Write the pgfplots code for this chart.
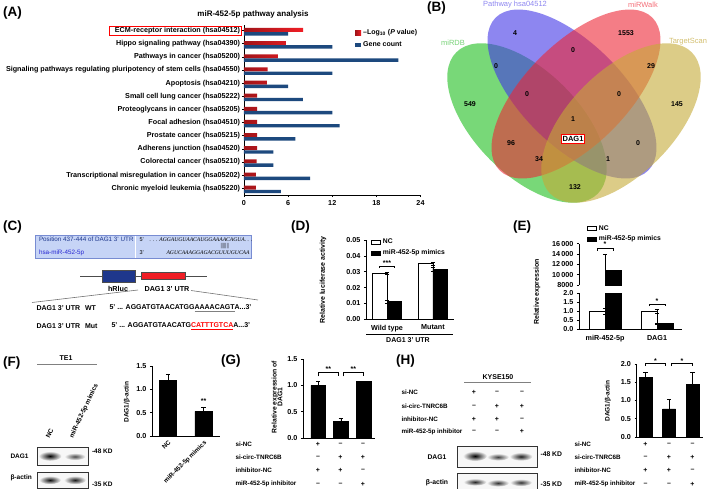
\documentclass[border=0pt]{standalone}
\usepackage{fontspec}
\setmainfont{Liberation Sans}
\newfontfamily\seriffont{Liberation Serif}
\usepackage{pgfplots}
\pgfplotsset{compat=1.18}
\definecolor{abar}{RGB}{29,73,126}
\definecolor{rbar}{RGB}{240,30,37}
\definecolor{rbard}{RGB}{160,20,25}
\definecolor{vgreen}{RGB}{30,190,30}
\definecolor{vblue}{RGB}{65,53,230}
\definecolor{vred}{RGB}{237,38,53}
\definecolor{vyellow}{RGB}{197,170,55}
\definecolor{lgreen}{RGB}{120,210,120}
\definecolor{lblue}{RGB}{141,134,240}
\definecolor{lred}{RGB}{244,110,120}
\definecolor{lyellow}{RGB}{210,190,110}
\definecolor{cbox}{RGB}{198,212,246}
\definecolor{cboxd}{RGB}{120,140,210}
\definecolor{hblue}{RGB}{30,55,140}
\definecolor{mirblue}{RGB}{40,40,210}
\newcommand{\fs}[1]{\fontsize{#1}{#1}\selectfont}
\pgfplotsset{
  prism/.style={scale only axis, axis x line*=bottom, axis y line*=left,
    tick align=outside, major tick length=2.2pt,
    every tick/.style={black, line width=0.6pt},
    axis line style={black, line width=0.7pt},
    tick label style={font=\bfseries\fs{7.2}},
    /pgf/number format/assume math mode=true,
    scaled y ticks=false, scaled x ticks=false,
    enlargelimits=false, clip=false,
    yticklabel style={/pgf/number format/fixed, /pgf/number format/fixed zerofill, /pgf/number format/precision=1},
  },
  eb/.style={error bars/y dir=both, error bars/y explicit,
    error bars/error bar style={line width=0.6pt, black},
    error bars/error mark options={rotate=90, mark size=2.2pt, line width=0.6pt, black}},
}
\tikzset{bt/.style={font=\bfseries\fs{#1}}, rt/.style={font=\fs{#1}}}
\newcommand{\signtab}[8]{%
  \foreach \yy/\lab/\sa/\sb/\sc in {#5/si-NC/+/--/--, #6/si-circ-TNRC6B/--/+/+, #7/inhibitor-NC/+/+/--, #8/miR-452-5p inhibitor/--/--/+}{%
    \node[anchor=west, bt=6.3] at (#1,-\yy) {\lab};
    \node[bt=7] at (#2,-\yy) {\sa};
    \node[bt=7] at (#3,-\yy) {\sb};
    \node[bt=7] at (#4,-\yy) {\sc};
  }%
}
\begin{document}
\begin{tikzpicture}[x=1pt,y=1pt]
\path[use as bounding box] (0,0) rectangle (709,-489);

% ---------------- Panel letters
\foreach \lx/\ly/\lt in {3/-13/A, 427/-8/B, 3/-227/C, 291/-227/D, 513/-227/E, 3/-363/F, 221/-361/G, 396/-361/H}{
  \node[anchor=west, bt=13.5, inner sep=0pt] at (\lx,\ly) {(\lt)};
}

% ---------------- (A)
\node[bt=8] at (253,-14) {miR-452-5p pathway analysis};
\begin{axis}[prism, at={(244pt,-195pt)}, anchor=south west, width=176.5pt, height=170pt,
  xmin=0, xmax=24, ymin=-0.43, ymax=12.51, y dir=reverse,
  xtick={0,6,12,18,24}, ytick={0,1,2,3,4,5,6,7,8,9,10,11,12},
  yticklabels={ECM-receptor interaction (hsa04512), Hippo signaling pathway (hsa04390), Pathways in cancer (hsa05200), Signaling pathways regulating pluripotency of stem cells (hsa04550), Apoptosis (hsa04210), Small cell lung cancer (hsa05222), Proteoglycans in cancer (hsa05205), Focal adhesion (hsa04510), Prostate cancer (hsa05215), Adherens junction (hsa04520), Colorectal cancer (hsa05210), Transcriptional misregulation in cancer (hsa05202), Chronic myeloid leukemia (hsa05220)},
  yticklabel style={font=\bfseries\fs{7.2}, inner sep=1.5pt},
  legend style={at={(0.629,0.985)}, anchor=north west, draw=none, fill=none, inner sep=0pt, row sep=1.5pt, font=\bfseries\fs{7}},
  legend cell align=left,
  legend image code/.code={\fill[#1] (0pt,-2.3pt) rectangle (6pt,2.3pt);},
]
\addplot[xbar, bar width=4pt, draw=none, left color=rbard, right color=rbar] coordinates {
 (8.05,-0.05) (5.7,0.95) (4.6,1.95) (3.2,2.95) (3.1,3.95) (1.8,4.95) (1.8,5.95)
 (1.8,6.95) (1.8,7.95) (1.8,8.95) (1.7,9.95) (1.6,10.95) (1.6,11.95)};
\addplot[xbar, bar width=3.4pt, draw=none, fill=abar] coordinates {
 (6,0.24) (12,1.24) (21,2.24) (12,3.24) (6,4.24) (8,5.24) (12,6.24)
 (13,7.24) (7,8.24) (4,9.24) (4,10.24) (9,11.24) (5,12.24)};
\legend{--Log\textsubscript{10} (\textit{P} value), Gene count}
\end{axis}
\draw[red, line width=0.8pt] (109,-26) rectangle (241.5,-35.5);

% ---------------- (B) Venn
\begin{scope}[fill opacity=0.6]
\fill[vgreen, rotate around={-45:(527,-123)}] (527,-123) ellipse (100 and 52);
\fill[vblue, rotate around={-45:(572,-94)}] (572,-94) ellipse (108 and 51);
\fill[vred, rotate around={45:(576,-94)}] (576,-94) ellipse (108 and 51);
\fill[vyellow, rotate around={45:(621,-123)}] (621,-123) ellipse (100 and 52);
\end{scope}
\node[rt=7.5, text=lblue] at (515,-5) {Pathway hsa04512};
\node[rt=7.5, text=lred] at (643,-5) {miRWalk};
\node[rt=7.5, text=lgreen] at (453,-43) {miRDB};
\node[rt=7.5, text=lyellow] at (688,-42) {TargetScan};
\foreach \vx/\vy/\vt in {515/33/4, 626/33/1553, 573/50/0, 496/66/0, 651/66/29, 527/94/0, 619/94/0, 470/104/549, 677/104/145, 573/119/1, 511/143/96, 638/143/0, 539/159/34, 608/159/1, 575/187/132}{
  \node[bt=7] at (\vx,-\vy) {\vt};
}
\node[bt=7.5, draw=red, line width=0.9pt, fill=white, inner sep=1.5pt] at (573,-139) {DAG1};

% ---------------- (C)
\fill[cbox] (35,-235) rectangle (251,-258);
\draw[cboxd, line width=0.4pt] (35,-235) rectangle (251,-258);
\draw[white, line width=0.9pt] (135,-235.5) -- (135,-257.5);
\node[anchor=west, rt=6.3, text=hblue] at (35.5,-239.5) {Position 437-444 of DAG1 3' UTR};
\node[anchor=west, rt=6.3, text=mirblue] at (35.5,-252.5) {hsa-miR-452-5p};
\node[anchor=west, rt=5.5] at (136,-239.5) {5'};
\node[anchor=west, rt=5.5] at (136,-252.5) {3'};
\node[anchor=west, font=\seriffont\itshape\fs{5.6}] at (146,-239.5) {. . . AGGAUGUAACAUGGAAAACAGUA. . .};
\node[anchor=west, font=\seriffont\fs{6}] at (217,-246) {|||||||};
\node[anchor=west, font=\seriffont\itshape\fs{5.6}] at (163,-252.5) {AGUCAAAGGAGACGUUUGUCAA};
\draw[black!70, line width=0.7pt] (80,-276) -- (207,-276);
\filldraw[fill=hblue, draw=black!70, line width=0.4pt] (102,-270) rectangle (135,-282);
\filldraw[fill=rbar, draw=black!70, line width=0.4pt] (141,-272.5) rectangle (185,-279.5);
\node[bt=7.2] at (118,-289) {hRluc};
\node[bt=7.2] at (167,-289) {DAG1 3' UTR};
\draw[black!55, line width=0.6pt] (138,-290) -- (32,-302.5);
\draw[black!55, line width=0.6pt] (191,-290.5) -- (258,-300);
\node[anchor=west, bt=7] at (33,-308.5) {DAG1 3' UTR\hspace{5pt}WT};
\node[anchor=west, bt=7] at (106,-308.5) {5' ... AGGATGTAACATGG\textcolor{gray}{\underline{\textcolor{black}{AAAACAGT}}}A...3'};
\node[anchor=west, bt=7] at (33,-326.5) {DAG1 3' UTR\hspace{5pt}Mut};
\node[anchor=west, bt=7] at (108,-326.5) {5' ... AGGATGTAACATG\textcolor{red}{\underline{CATTTGTCA}}A...3'};

% ---------------- (D)
\begin{axis}[prism, at={(366pt,-319.3pt)}, anchor=south west, width=88pt, height=79.3pt,
  ymin=0, ymax=0.05, ytick={0,0.01,0.02,0.03,0.04,0.05},
  yticklabel style={/pgf/number format/precision=2},
  xmin=-0.457, xmax=1.458, xtick={0,1}, xticklabels={Wild type, Mutant},
  xtick style={draw=none},
  legend style={at={(0.057,1.04)}, anchor=north west, draw=none, fill=none, inner sep=0pt, row sep=0.5pt, font=\bfseries\fs{6.8}},
  legend cell align=left,
  legend image code/.code={\draw[#1] (0pt,-2pt) rectangle (9pt,2pt);},
]
\addplot[ybar, bar width=14.5pt, bar shift=-7.25pt, fill=white, draw=black, line width=0.7pt, eb] coordinates {(0,0.029) +- (0,0.0005) (1,0.035) +- (0,0.001)};
\addplot[ybar, bar width=14.5pt, bar shift=7.25pt, fill=black, draw=black, line width=0.7pt, eb] coordinates {(0,0.0111) +- (0,0.001) (1,0.0315) +- (0,0.0013)};
\legend{NC, miR-452-5p mimics}
\draw[line width=0.6pt] (axis cs:-0.158,0.0322) |- (axis cs:0.158,0.0332) -- (axis cs:0.158,0.0322);
\node[bt=7] at (axis cs:0,0.0352) {***};
\end{axis}
\node[bt=7, rotate=90] at (323,-280) {Relative luciferase activity};
\draw[line width=0.6pt] (366,-334) -- (453,-334);
\node[bt=7] at (408,-340.5) {DAG1 3' UTR};

% ---------------- (E)
\begin{axis}[prism, at={(579pt,-285pt)}, anchor=south west, width=103pt, height=41.3pt,
  axis x line=none, hide x axis, clip=true, clip mode=individual,
  ymin=8000, ymax=16000, ytick={8000,10000,12000,14000,16000},
  yticklabels={8000,10\,000,12\,000,14\,000,16\,000},
  xmin=-0.5, xmax=1.48,
  legend style={at={(0.078,1.5)}, anchor=north west, draw=none, fill=none, inner sep=0pt, row sep=0.5pt, font=\bfseries\fs{6.8}},
  legend cell align=left,
  legend image code/.code={\draw[#1] (0pt,-2pt) rectangle (9pt,2pt);},
]
\addlegendimage{fill=white, draw=black, line width=0.7pt}
\addlegendentry{NC}
\addplot[ybar, bar width=16pt, bar shift=8pt, fill=black, draw=black, line width=0.7pt, eb] coordinates {(0,10800) +- (0,3200)};
\addlegendentry{miR-452-5p mimics}
\draw[line width=0.6pt] (axis cs:-0.154,14600) |- (axis cs:0.154,15200) -- (axis cs:0.154,14600);
\node[bt=7] at (axis cs:0,15900) {*};
\end{axis}
\begin{axis}[prism, at={(579pt,-329.3pt)}, anchor=south west, width=103pt, height=36.3pt, clip=true, clip mode=individual,
  ymin=0, ymax=2, ytick={0,0.5,1,1.5,2},
  xmin=-0.5, xmax=1.48, xtick={0,1}, xticklabels={miR-452-5p, DAG1},
  xtick style={draw=none},
]
\addplot[ybar, bar width=16pt, bar shift=-8pt, fill=white, draw=black, line width=0.7pt, eb] coordinates {(0,1.0) +- (0,0.17) (1,1.0) +- (0,0.1)};
\addplot[ybar, bar width=16pt, bar shift=8pt, fill=black, draw=black, line width=0.7pt, restrict y to domain*=0:2.5] coordinates {(0,10800)};
\addplot[ybar, bar width=16pt, bar shift=8pt, fill=black, draw=black, line width=0.7pt, eb] coordinates {(1,0.32) +- (0,0.02)};
\draw[line width=0.6pt] (axis cs:0.846,1.28) |- (axis cs:1.154,1.39) -- (axis cs:1.154,1.28);
\node[bt=7] at (axis cs:1,1.55) {*};
\end{axis}
\node[bt=7, rotate=90] at (537,-292) {Relative expression};

% ---------------- (F)
\node[bt=7] at (66,-358) {TE1};
\draw[line width=0.6pt, gray] (37,-364) -- (97,-364);
\node[bt=6.5, rotate=65, anchor=west] at (46,-441) {NC};
\node[bt=6.5, rotate=65, anchor=west] at (70,-441) {miR-452-5p mimics};
\filldraw[fill=gray!6, draw=gray!40!black, line width=0.5pt] (37,-447) rectangle (88,-465);
\shade[inner color=black, outer color=gray!6] (50,-456) ellipse (11.5 and 4.8);
\shade[inner color=black!70, outer color=gray!6] (75,-456.5) ellipse (10.5 and 3.6);
\filldraw[fill=gray!6, draw=gray!40!black, line width=0.5pt] (37,-472) rectangle (88,-488);
\shade[inner color=black!95, outer color=gray!6] (50,-480) ellipse (11 and 4.2);
\shade[inner color=black!90, outer color=gray!6] (75,-480) ellipse (11 and 4.2);
\node[bt=6.5, anchor=west] at (7,-456) {DAG1};
\node[bt=6.5, anchor=west] at (7,-478) {β-actin};
\node[bt=6.5, anchor=west] at (88.5,-451) {-48 KD};
\node[bt=6.5, anchor=west] at (88.5,-484) {-35 KD};
\begin{axis}[prism, at={(152pt,-436pt)}, anchor=south west, width=68pt, height=70pt,
  ymin=0, ymax=1.5, ytick={0,0.5,1,1.5},
  xmin=-0.45, xmax=1.46, xtick={0,1}, xticklabels={NC, miR-452-5p mimics},
  xticklabel style={rotate=45, anchor=north east, font=\bfseries\fs{6.3}, inner sep=1pt},
  xtick style={draw=none},
]
\addplot[ybar, bar width=17.5pt, bar shift=0pt, fill=black, draw=black, line width=0.7pt, eb] coordinates {(0,1.2) +- (0,0.13) (1,0.53) +- (0,0.09)};
\node[bt=7] at (axis cs:1,0.74) {**};
\end{axis}
\node[bt=6.5, rotate=90] at (127,-402) {DAG1/β-actin};

% ---------------- (G)
\begin{axis}[prism, at={(303pt,-438pt)}, anchor=south west, width=72pt, height=79pt,
  ymin=0, ymax=1.5, ytick={0,0.5,1,1.5},
  xmin=-0.67, xmax=2.5, xtick=\empty,
]
\addplot[ybar, bar width=14.5pt, bar shift=0pt, fill=black, draw=black, line width=0.7pt, eb] coordinates {(0,1.0) +- (0,0.08) (1,0.32) +- (0,0.06) (2,1.07) +- (0,0.005)};
\draw[line width=0.6pt] (axis cs:0,1.17) |- (axis cs:0.9,1.245) -- (axis cs:0.9,1.17);
\draw[line width=0.6pt] (axis cs:1.1,1.17) |- (axis cs:2,1.245) -- (axis cs:2,1.17);
\node[bt=7] at (axis cs:0.45,1.31) {**};
\node[bt=7] at (axis cs:1.55,1.31) {**};
\end{axis}
\node[bt=6.8, rotate=90, align=center] at (277,-397) {Relative expression of\\[-1pt]DAG1};
\signtab{232}{318}{340.5}{363}{444}{457.5}{470.5}{484}

% ---------------- (H)
\node[bt=7] at (498,-377) {KYSE150};
\draw[line width=0.6pt, gray] (464,-382.5) -- (531,-382.5);
\signtab{398}{474}{497}{522}{392}{406}{419}{431.5}
\filldraw[fill=gray!6, draw=gray!40!black, line width=0.5pt] (457,-446) rectangle (537,-467);
\shade[inner color=black, outer color=gray!6] (475,-456) ellipse (12 and 5);
\shade[inner color=black!75, outer color=gray!6] (498,-457) ellipse (11 and 3.6);
\shade[inner color=black!88, outer color=gray!6] (521,-456.5) ellipse (11.5 and 4.2);
\filldraw[fill=gray!6, draw=gray!40!black, line width=0.5pt] (457,-473) rectangle (537,-493);
\shade[inner color=black!85, outer color=gray!6] (475,-482) ellipse (11.5 and 3.6);
\shade[inner color=black!80, outer color=gray!6] (498,-483) ellipse (11 and 3.6);
\shade[inner color=black!80, outer color=gray!6] (521,-482.5) ellipse (11 and 3.6);
\node[bt=6.8] at (437,-457) {DAG1};
\node[bt=6.8] at (437,-483) {β-actin};
\node[bt=6.8, anchor=west] at (537,-454.5) {-48 KD};
\node[bt=6.8, anchor=west] at (537,-484.5) {-35 KD};
\begin{axis}[prism, at={(636.7pt,-437pt)}, anchor=south west, width=66pt, height=73pt,
  ymin=0, ymax=2, ytick={0,0.5,1,1.5,2},
  xmin=-0.375, xmax=2.43, xtick=\empty,
]
\addplot[ybar, bar width=13pt, bar shift=0pt, fill=black, draw=black, line width=0.7pt, eb] coordinates {(0,1.64) +- (0,0.12) (1,0.77) +- (0,0.26) (2,1.43) +- (0,0.34)};
\draw[line width=0.6pt] (axis cs:0,1.94) |- (axis cs:0.85,2.02) -- (axis cs:0.85,1.94);
\draw[line width=0.6pt] (axis cs:1.1,1.94) |- (axis cs:2,2.02) -- (axis cs:2,1.94);
\node[bt=7] at (axis cs:0.42,2.09) {*};
\node[bt=7] at (axis cs:1.55,2.09) {*};
\end{axis}
\node[bt=6.5, rotate=90] at (608,-401) {DAG1/β-actin};
\signtab{571}{645.5}{669}{692.5}{444}{457.5}{470.5}{484}

\end{tikzpicture}
\end{document}
